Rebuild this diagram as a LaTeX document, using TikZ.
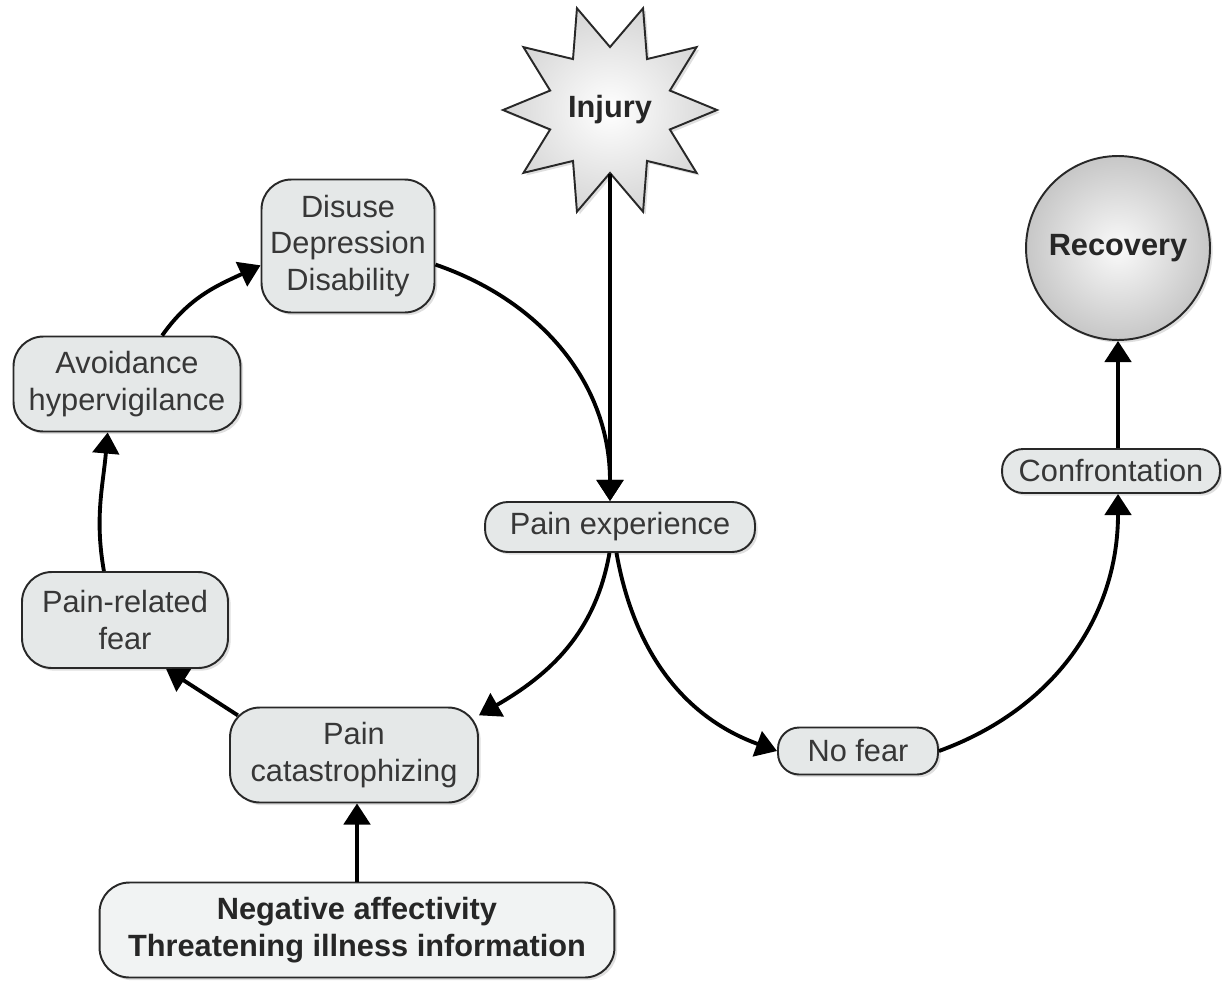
\documentclass[tikz,border=0pt]{standalone}
\usepackage{fontspec}
\setmainfont{Liberation Sans}
\usepackage{tikz}
\usetikzlibrary{arrows.meta,positioning,shapes.geometric,shadows}
\definecolor{boxfill}{RGB}{229,232,232}
\definecolor{negfill}{RGB}{241,243,243}
\definecolor{boxline}{RGB}{40,40,40}
\definecolor{txtgray}{RGB}{55,55,55}

\begin{document}
\begin{tikzpicture}[x=0.02cm,y=-0.02cm,
  box/.style={draw=boxline,line width=1.1pt,fill=boxfill,rounded corners=17pt,align=center,inner sep=0pt,text=txtgray,font=\fontsize{17.5}{21}\selectfont,drop shadow={shadow xshift=1.5pt,shadow yshift=-1.5pt,opacity=0.25}},
  pill/.style={box,rounded corners=12pt},
  flow/.style={-{Triangle[length=12pt,width=15pt]},line width=2.2pt}]
\useasboundingbox (0,0) rectangle (1222,980);
% the vicious circle
\node[box,minimum width=3.46cm,minimum height=2.66cm] (disuse) at (348,246) {Disuse\\Depression\\Disability};
\node[box,minimum width=4.54cm,minimum height=1.9cm] (avoid) at (127,384) {Avoidance\\hypervigilance};
\node[box,minimum width=4.12cm,minimum height=1.92cm] (fear) at (125,620) {Pain-related\\fear};
\node[box,minimum width=4.96cm,minimum height=1.9cm] (cat) at (354,755) {Pain\\catastrophizing};
\node[box,fill=negfill,minimum width=10.3cm,minimum height=1.9cm,text=black!85,font=\bfseries\fontsize{17.5}{21}\selectfont] (neg) at (357,930) {Negative affectivity\\Threatening illness information};
\node[pill,rounded corners=13pt,minimum width=5.4cm,minimum height=1cm] (painexp) at (620,527) {Pain experience};
% the way out
\node[pill,minimum width=3.2cm,minimum height=0.94cm] (nofear) at (858,751) {No fear};
\node[pill,minimum width=4.36cm,minimum height=0.88cm] (conf) at (1111,471) {Confrontation};
\node[circle,draw=boxline,line width=1.1pt,shading=radial,inner color=black!2,outer color=black!22,minimum size=3.68cm,text=black!85,font=\bfseries\fontsize{17.5}{21}\selectfont,drop shadow={shadow xshift=1.5pt,shadow yshift=-1.5pt,opacity=0.25}] (rec) at (1118,248) {Recovery};
\node[star,star points=10,star point ratio=1.7,shape border rotate=18,minimum size=4.28cm,inner sep=0pt,draw=boxline,line width=1.1pt,shading=radial,inner color=white,outer color=black!16,text=black!85,font=\bfseries\fontsize{17.5}{21}\selectfont,drop shadow={shadow xshift=1.5pt,shadow yshift=-1.5pt,opacity=0.25}] (inj) at (610,110) {Injury};
\coordinate (pin) at (inj.south |- painexp.north);
% arrows
\draw[flow] (inj.south) -- (pin);
\draw[flow] (disuse.-12) to[out=-19,in=90] (pin);
\draw[flow] ([xshift=-6pt]painexp.south) to[out=-100,in=30] ([yshift=-5pt]cat.north east);
\draw[flow] ([xshift=-2pt]painexp.south) to[out=-80,in=160] (nofear.west);
\draw[flow] (nofear.east) to[out=20,in=-90] (conf.south -| rec.south);
\draw[flow] (conf.north -| rec.south) -- (rec.south);
\draw[flow] (neg.north) -- (neg.north |- cat.south);
\draw[flow] ([shift={(5pt,-5pt)}]cat.north west) -- (fear.-50);
\draw[flow] ([xshift=-12pt]fear.north) to[out=100,in=-95] ([xshift=-11pt]avoid.south);
\draw[flow] ([xshift=20pt]avoid.north) to[out=55,in=-155] ([yshift=-11pt]disuse.west);
\end{tikzpicture}
\end{document}
